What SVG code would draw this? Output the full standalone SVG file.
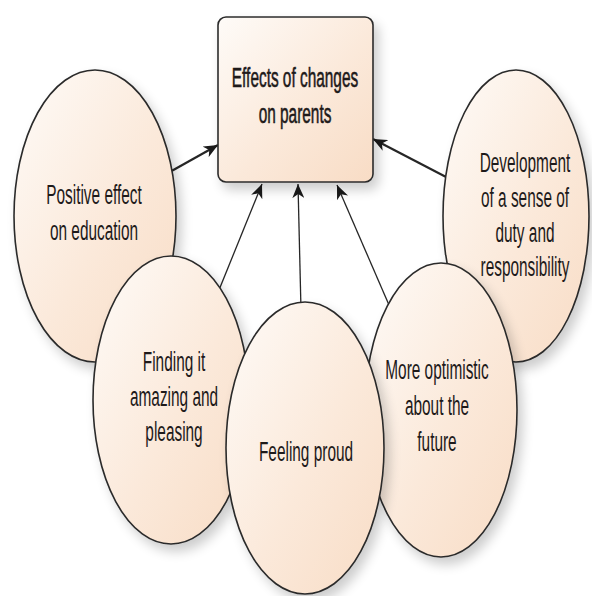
<svg xmlns="http://www.w3.org/2000/svg" width="592" height="596" viewBox="0 0 592 596">
<defs>
<linearGradient id="peach" x1="0" y1="0" x2="1" y2="1">
<stop offset="0" stop-color="#fefbf8"/>
<stop offset="0.55" stop-color="#fbe9da"/>
<stop offset="1" stop-color="#f8dcc5"/>
</linearGradient>
<filter id="shadow" x="-20%" y="-20%" width="150%" height="150%">
<feGaussianBlur in="SourceAlpha" stdDeviation="6"/>
<feOffset dx="5" dy="7" result="b"/>
<feComponentTransfer><feFuncA type="linear" slope="0.2"/></feComponentTransfer>
<feMerge><feMergeNode/><feMergeNode in="SourceGraphic"/></feMerge>
</filter>
<marker id="arrow" viewBox="0 0 14 12" refX="14" refY="6" markerWidth="14" markerHeight="12" markerUnits="userSpaceOnUse" orient="auto">
<path d="M0,0 L14,6 L0,12 L4,6 Z" fill="#1a1a1a"/>
</marker>
</defs>
<style>
.node{fill:url(#peach);stroke:#2b2b2b;stroke-width:1.6;filter:url(#shadow);}
.lbl{font-family:"Liberation Sans",Arial,sans-serif;font-size:28px;fill:#1e1a1a;text-anchor:middle;}
.title{stroke:#1e1a1a;stroke-width:0.6;}
.conn{stroke:#262626;fill:none;marker-end:url(#arrow);}
.thick{stroke-width:2.2;}
.thin{stroke-width:1.3;}
</style>
<rect width="592" height="596" fill="#ffffff"/>
<g id="connectors">
<line class="conn thick" x1="168" y1="173" x2="218" y2="145"/>
<line class="conn thick" x1="448" y1="178" x2="373" y2="139"/>
<line class="conn thin" x1="219" y1="290" x2="262" y2="184"/>
<line class="conn thin" x1="301" y1="310" x2="298" y2="184"/>
<line class="conn thin" x1="389" y1="305" x2="337" y2="185"/>
</g>
<g id="node-center">
<rect class="node" x="218" y="17" width="155" height="165" rx="8" ry="8"/>
<g transform="translate(295,0) scale(0.55,1)"><text class="lbl title"><tspan x="0" y="87">Effects of changes</tspan><tspan x="0" y="123">on parents</tspan></text></g>
</g>
<g id="node-positive">
<ellipse class="node" cx="95" cy="216" rx="81" ry="146"/>
<g transform="translate(94,0) scale(0.55,1)"><text class="lbl"><tspan x="0" y="204">Positive effect</tspan><tspan x="0" y="240">on education</tspan></text></g>
</g>
<g id="node-development">
<ellipse class="node" cx="516" cy="216" rx="73" ry="146"/>
<g transform="translate(525,0) scale(0.55,1)"><text class="lbl"><tspan x="0" y="172">Development</tspan><tspan x="0" y="207">of a sense of</tspan><tspan x="0" y="242">duty and</tspan><tspan x="0" y="276">responsibility</tspan></text></g>
</g>
<g id="node-finding">
<ellipse class="node" cx="171" cy="400" rx="78" ry="144"/>
<g transform="translate(174,0) scale(0.55,1)"><text class="lbl"><tspan x="0" y="371">Finding it</tspan><tspan x="0" y="406">amazing and</tspan><tspan x="0" y="441">pleasing</tspan></text></g>
</g>
<g id="node-optimistic">
<ellipse class="node" cx="441" cy="410" rx="76" ry="147"/>
<g transform="translate(437,0) scale(0.55,1)"><text class="lbl"><tspan x="0" y="379">More optimistic</tspan><tspan x="0" y="415">about the</tspan><tspan x="0" y="451">future</tspan></text></g>
</g>
<g id="node-proud">
<ellipse class="node" cx="305" cy="448" rx="79" ry="146"/>
<g transform="translate(306,0) scale(0.55,1)"><text class="lbl"><tspan x="0" y="461">Feeling proud</tspan></text></g>
</g>
</svg>
